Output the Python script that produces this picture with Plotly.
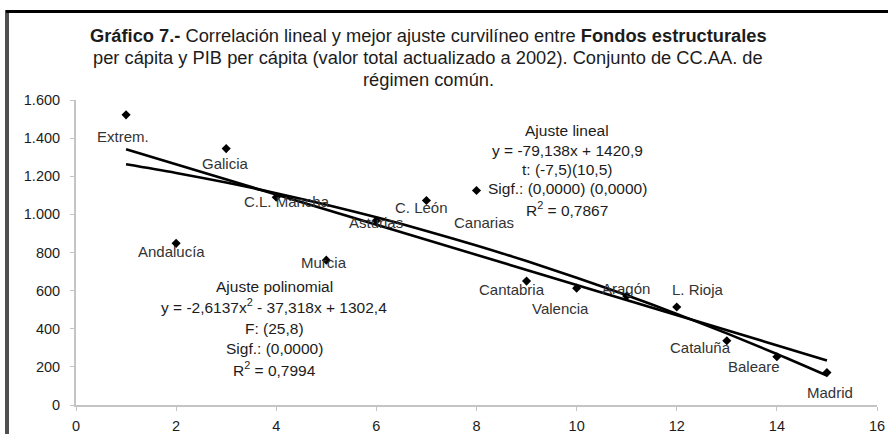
import numpy as np
import plotly.graph_objects as go

# ---------------- data ----------------
regions = ["Extrem.", "Andalucía", "Galicia", "C.L. Mancha", "Murcia", "Asturias",
           "C. León", "Canarias", "Cantabria", "Valencia", "Aragón", "L. Rioja",
           "Cataluña", "Baleare", "Madrid"]
pib_rank = [1, 2, 3, 4, 5, 6, 7, 8, 9, 10, 11, 12, 13, 14, 15]
fondos = [1522, 848, 1345, 1090, 760, 968, 1073, 1125, 650, 613, 572, 514, 337, 253, 170]

# trendline coefficients as printed on the chart
linear_coef = [-79.138, 1420.9]
poly_coef = [-2.6137, -37.318, 1302.4]

x_ticks = [0, 2, 4, 6, 8, 10, 12, 14, 16]
y_ticks = [0, 200, 400, 600, 800, 1000, 1200, 1400, 1600]
y_tick_text = ["0", "200", "400", "600", "800", "1.000", "1.200", "1.400", "1.600"]

# label offsets (pixels, screen: right / down)
label_dx = [-3, -5, -1, 11, -2, 0, -5, 7, -15, -16, -1, 21, -26, -23, 3]
label_dy = [22, 8, 15, 4, 2, 2, 7, 32, 8, 20, -7, -18, 7, 10, 20]

# ---------------- layout constants ----------------
W, H = 888, 434
ML, MR, MT, MB = 76, 11, 100, 29
PW = W - ML - MR
PH = H - MT - MB


def px(xp):
    return (xp - ML) / PW


def py(yp):
    return (H - MB - yp) / PH


FONT = "Liberation Sans, Arial, sans-serif"
TXT = "#1c1c1c"

xs = np.array(pib_rank, dtype=float)
lin_y = np.polyval(linear_coef, xs)
poly_y = np.polyval(poly_coef, xs)

fig = go.Figure()
fig.add_trace(go.Scatter(x=xs, y=lin_y, mode="lines",
                         line=dict(color="black", width=2.6), hoverinfo="skip"))
fig.add_trace(go.Scatter(x=xs, y=poly_y, mode="lines", line_shape="spline",
                         line=dict(color="black", width=2.6), hoverinfo="skip"))
fig.add_trace(go.Scatter(x=pib_rank, y=fondos, mode="markers",
                         marker=dict(symbol="diamond", size=7, color="black"),
                         cliponaxis=False))

annotations = []
for name, xv, yv, dx, dy in zip(regions, pib_rank, fondos, label_dx, label_dy):
    annotations.append(dict(x=xv, y=yv, xref="x", yref="y", text=name,
                            showarrow=False, xshift=dx, yshift=-dy,
                            font=dict(family=FONT, size=15, color="#333333")))

title_lines = [
    ("<b>Gráfico 7.-</b> Correlación lineal y mejor ajuste curvilíneo entre <b>Fondos estructurales</b>", 36),
    ("per cápita y PIB per cápita (valor total actualizado a 2002). Conjunto de CC.AA. de", 58),
    ("régimen común.", 80),
]
for t, yp in title_lines:
    annotations.append(dict(x=px(428), y=py(yp), xref="paper", yref="paper", text=t,
                            showarrow=False, xanchor="center", yanchor="middle",
                            font=dict(family=FONT, size=18.3, color=TXT)))

lin_box = [("Ajuste lineal", 130), ("y = -79,138x + 1420,9", 150), ("t: (-7,5)(10,5)", 169),
           ("Sigf.: (0,0000) (0,0000)", 188), ("R<sup>2</sup> = 0,7867", 209)]
for t, yp in lin_box:
    annotations.append(dict(x=px(567), y=py(yp), xref="paper", yref="paper", text=t,
                            showarrow=False, xanchor="center", yanchor="middle",
                            font=dict(family=FONT, size=15.5, color=TXT)))

poly_box = [("Ajuste polinomial", 286), ("y = -2,6137x<sup>2</sup> - 37,318x + 1302,4", 306),
            ("F: (25,8)", 328), ("Sigf.: (0,0000)", 348), ("R<sup>2</sup> = 0,7994", 369)]
for t, yp in poly_box:
    annotations.append(dict(x=px(274), y=py(yp), xref="paper", yref="paper", text=t,
                            showarrow=False, xanchor="center", yanchor="middle",
                            font=dict(family=FONT, size=15.5, color=TXT)))

shapes = [
    dict(type="rect", xref="paper", yref="paper", x0=px(6), x1=px(888), y0=py(10), y1=py(13),
         fillcolor="black", line=dict(width=0), layer="above"),
    dict(type="rect", xref="paper", yref="paper", x0=px(5), x1=px(9), y0=py(10), y1=py(434),
         fillcolor="#505050", line=dict(width=0), layer="above"),
]

axis_common = dict(showgrid=False, zeroline=False, showline=True, linecolor="#c4c4c4",
                   linewidth=2, ticks="outside", ticklen=4, tickcolor="#c4c4c4", tickwidth=1,
                   automargin=False,
                   tickfont=dict(family=FONT, size=14.5, color=TXT))

fig.update_layout(
    width=W, height=H,
    margin=dict(l=ML, r=MR, t=MT, b=MB),
    paper_bgcolor="white", plot_bgcolor="white",
    showlegend=False,
    xaxis=dict(range=[0, 16], tickvals=x_ticks, ticklabelstandoff=3, **axis_common),
    yaxis=dict(range=[0, 1600], tickvals=y_ticks, ticktext=y_tick_text,
               ticklabelstandoff=7, **axis_common),
    annotations=annotations,
    shapes=shapes,
)

fig.write_html(
    "out.html",
    config={"displayModeBar": False},
    post_script=(
        "document.body.style.margin='0';document.body.style.padding='0';"
        "document.body.style.overflow='hidden';"
        "var fr=document.createElement('div');"
        "fr.style.cssText='position:absolute;left:6px;top:10px;width:882px;height:3px;"
        "background:#000;z-index:10;pointer-events:none';"
        "document.body.appendChild(fr);"
    ),
)
